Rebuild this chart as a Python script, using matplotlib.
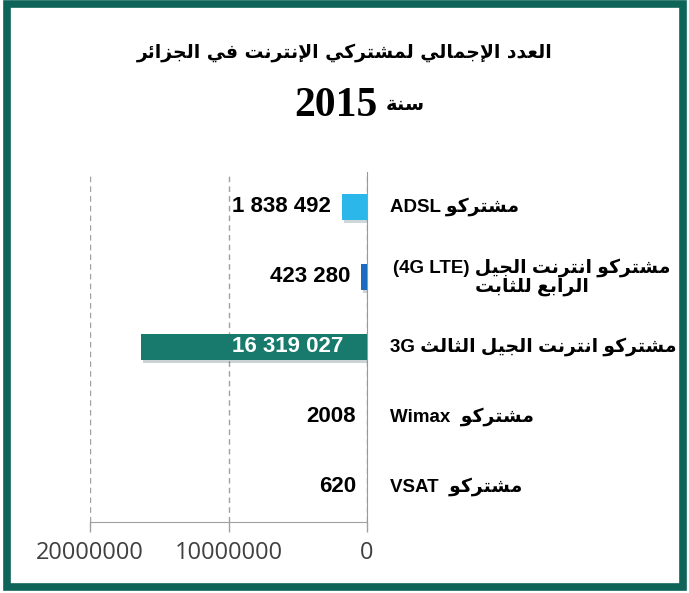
import re
import matplotlib.pyplot as plt
import matplotlib.transforms as mtransforms
from matplotlib.patches import Rectangle
from matplotlib import patheffects

# ---------------- data ----------------
categories = [
    "مشتركو ADSL",
    "مشتركو انترنت الجيل (4G LTE)\nالرابع للثابت",
    "مشتركو انترنت الجيل الثالث 3G",
    "مشتركو  Wimax",
    "مشتركو  VSAT",
]
subscribers = [1838492, 423280, 16319027, 2008, 620]
value_labels = ["1 838 492", "423 280", "16 319 027", "2008", "620"]
bar_colors = ["#2bb7e9", "#1c6dbf", "#177a6c", "#177a6c", "#177a6c"]
x_ticks = [20000000, 10000000, 0]
title_line1 = "العدد الإجمالي لمشتركي الإنترنت في الجزائر"
title_word = "سنة"
title_year = "2015"

# ---------------- simple arabic shaping (matplotlib has no shaper) ----------------
BASE = {0x0621: 0xFE80, 0x0622: 0xFE81, 0x0623: 0xFE83, 0x0624: 0xFE85, 0x0625: 0xFE87,
        0x0626: 0xFE89, 0x0627: 0xFE8D, 0x0628: 0xFE8F, 0x0629: 0xFE93, 0x062A: 0xFE95,
        0x062B: 0xFE99, 0x062C: 0xFE9D, 0x062D: 0xFEA1, 0x062E: 0xFEA5, 0x062F: 0xFEA9,
        0x0630: 0xFEAB, 0x0631: 0xFEAD, 0x0632: 0xFEAF, 0x0633: 0xFEB1, 0x0634: 0xFEB5,
        0x0635: 0xFEB9, 0x0636: 0xFEBD, 0x0637: 0xFEC1, 0x0638: 0xFEC5, 0x0639: 0xFEC9,
        0x063A: 0xFECD, 0x0641: 0xFED1, 0x0642: 0xFED5, 0x0643: 0xFED9, 0x0644: 0xFEDD,
        0x0645: 0xFEE1, 0x0646: 0xFEE5, 0x0647: 0xFEE9, 0x0648: 0xFEED, 0x0649: 0xFEEF,
        0x064A: 0xFEF1}
RIGHT_ONLY = {0x0622, 0x0623, 0x0624, 0x0625, 0x0627, 0x0629, 0x062F, 0x0630, 0x0631,
              0x0632, 0x0648, 0x0649}
LAM_ALEF = {0x0622: 0xFEF5, 0x0623: 0xFEF7, 0x0625: 0xFEF9, 0x0627: 0xFEFB}


def shape(text):
    # tokens: (base codepoint for forms, joining type) or plain char
    toks = []
    i = 0
    while i < len(text):
        c = ord(text[i])
        if c == 0x0644 and i + 1 < len(text) and ord(text[i + 1]) in LAM_ALEF:
            toks.append((LAM_ALEF[ord(text[i + 1])], "R"))
            i += 2
            continue
        if c in BASE:
            jt = "U" if c == 0x0621 else ("R" if c in RIGHT_ONLY else "D")
            toks.append((BASE[c], jt))
        else:
            toks.append(text[i])
        i += 1
    out = []
    for k, t in enumerate(toks):
        if isinstance(t, str):
            out.append(t)
            continue
        base, jt = t
        prev = toks[k - 1] if k > 0 else None
        nxt = toks[k + 1] if k + 1 < len(toks) else None
        jp = jt in "DR" and isinstance(prev, tuple) and prev[1] == "D"
        jn = jt == "D" and isinstance(nxt, tuple) and nxt[1] in "DR"
        if jp and jn:
            out.append(chr(base + 3))
        elif jp:
            out.append(chr(base + 1))
        elif jn:
            out.append(chr(base + 2))
        else:
            out.append(chr(base))
    return "".join(out)


def visual(text):
    lines = []
    for line in text.split("\n"):
        rev = shape(line)[::-1]
        rev = re.sub(r"[A-Za-z0-9][A-Za-z0-9 .]*[A-Za-z0-9]|[A-Za-z0-9]",
                     lambda m: m.group(0)[::-1], rev)
        lines.append(rev.translate(str.maketrans("()", ")(")))
    return "\n".join(lines)


# ---------------- plot ----------------
W, H = 689, 593
fig = plt.figure(figsize=(W / 100, H / 100), dpi=100)
ax = fig.add_axes([90 / W, 71 / H, 277 / W, 350 / H])

pos = list(range(len(categories)))
bars = ax.barh(pos, subscribers, height=0.38, color=bar_colors, zorder=3,
               path_effects=[patheffects.SimplePatchShadow(offset=(1.5, -2), alpha=0.2),
                             patheffects.Normal()])

ax.set_xlim(20000000, 0)
ax.set_ylim(len(categories) - 0.5, -0.5)
ax.set_xticks(x_ticks)
ax.set_xticklabels([str(v) for v in x_ticks], fontsize=17, family="Open Sans", color="#404040")
ax.set_yticks([])
ax.tick_params(axis="x", length=7, width=1, color="#a0a0a0", pad=7)
ax.xaxis.grid(True, linestyle=(0, (4, 3)), color="#a0a0a0", linewidth=1, zorder=0)

for side in ["top", "left"]:
    ax.spines[side].set_visible(False)
ax.spines["right"].set_color("#9a9a9a")
ax.spines["bottom"].set_color("#a0a0a0")

# value labels: outside the bar end, or inside (white) for the long 3G bar
num_font = ["Liberation Sans Narrow", "Liberation Sans"]
for i, (v, lab) in enumerate(zip(subscribers, value_labels)):
    inside = v > 10000000
    ax.annotate(lab, xy=(0 if inside else v, i), xytext=(-17 if inside else -8, 0),
                textcoords="offset points", ha="right", va="center", fontsize=16,
                fontweight="bold", family=num_font,
                color="white" if inside else "black", zorder=4)

trans = mtransforms.blended_transform_factory(ax.transAxes, ax.transData)
cat_font = ["Liberation Sans", "DejaVu Sans"]
for i, cat in enumerate(categories):
    if "\n" in cat:
        ax.text(1.595, i, visual(cat), transform=trans, ha="center", va="center",
                multialignment="center", fontsize=13.5, fontweight="bold", family=cat_font,
                linespacing=1.05)
    else:
        ax.text(1.083, i, visual(cat), transform=trans, ha="left", va="center",
                fontsize=13.5, fontweight="bold", family=cat_font)

# title
fig.text(345 / W, 1 - 52 / H, visual(title_line1), ha="center", va="center",
         fontsize=13.5, fontweight="bold", family=["DejaVu Sans"])
fig.text(377 / W, 1 - 106 / H, title_year, ha="right", va="center",
         fontsize=30, fontweight="bold", family=["Liberation Serif"])
fig.text(386 / W, 1 - 104 / H, visual(title_word), ha="left", va="center",
         fontsize=14, fontweight="bold", family=["DejaVu Sans"])

# frame
fig.patches.append(Rectangle((6.5 / W, 6.5 / H), 676 / W, 583 / H, transform=fig.transFigure,
                             fill=False, edgecolor="#0e6459", linewidth=5.5, zorder=10))

fig.savefig("out.png", dpi=100, facecolor="white")
